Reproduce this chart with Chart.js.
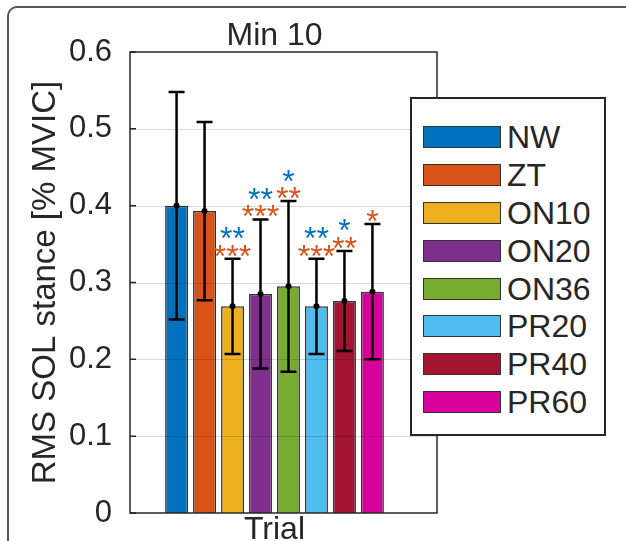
<!DOCTYPE html>
<html>
<head>
<meta charset="utf-8">
<script src="https://cdn.jsdelivr.net/npm/chart.js@4.4.0/dist/chart.umd.min.js"></script>
<style>
  html, body { margin: 0; padding: 0; width: 626px; height: 541px; overflow: hidden; background: #fff; }
  #frame { position: absolute; left: 7px; top: 6px; width: 700px; height: 700px; border: 2px solid #555; border-radius: 10px; }
  #wrap { position: absolute; left: 0; top: 0; width: 626px; height: 570px; }
  .legend { box-sizing: border-box; position: absolute; left: 410px; top: 97px; width: 196px; height: 339px;
    padding: 19px 0 0 0; margin: 0; list-style: none;
    border: 2px solid #262626; background: #fff;
    font-family: "Liberation Sans", Arial, sans-serif; font-size: 32px; color: #262626; }
  .legend li { display: flex; align-items: center; height: 37.9px; }
  .legend .sw { box-sizing: border-box; width: 78px; height: 22px; margin-left: 11px; margin-right: 6px; border: 1.5px solid #333; }
  .legend .tx { line-height: 1; }
</style>
</head>
<body>
<div id="frame"></div>
<div id="wrap"><canvas id="c" width="626" height="570"></canvas></div>
<ul class="legend" id="legend"></ul>
<script>
const groupLabel = "Trial";
const categories = ["NW", "ZT", "ON10", "ON20", "ON36", "PR20", "PR40", "PR60"];
const means = [0.400, 0.393, 0.269, 0.285, 0.295, 0.269, 0.276, 0.288];
const sd = [0.148, 0.116, 0.062, 0.097, 0.111, 0.062, 0.065, 0.088];
// number of stars: difference vs NW (blue) and vs ZT (orange)
const sigNW = [0, 0, 2, 2, 1, 2, 1, 0];
const sigZT = [0, 0, 3, 3, 2, 3, 2, 1];
const yTicks = [0, 0.1, 0.2, 0.3, 0.4, 0.5, 0.6];
const colors = ["#0072BD", "#D95319", "#EDB120", "#7E2F8E", "#77AC30", "#4DBEEE", "#A2142F", "#D6009A"];

const font = '"Liberation Sans", Arial, sans-serif';
const textColor = "#262626";
const frameRight = 437;

//axes box, grid, error bars and stars
const matlabAxes = {
  id: "matlabAxes",
  afterDatasetsDraw(chart) {
    const { ctx, chartArea: a, scales: { y } } = chart;
    ctx.save();
    // grid lines on top of bars, like MATLAB
    ctx.strokeStyle = "rgba(0,0,0,0.15)";
    ctx.lineWidth = 1;
    yTicks.slice(1, -1).forEach((v) => {
      const py = Math.round(y.getPixelForValue(v)) + 0.5;
      ctx.beginPath();
      ctx.moveTo(a.left, py);
      ctx.lineTo(frameRight, py);
      ctx.stroke();
    });
    // error bars
    ctx.strokeStyle = "#000";
    ctx.fillStyle = "#000";
    ctx.lineWidth = 2.5;
    categories.forEach((name, i) => {
      const bar = chart.getDatasetMeta(i).data[0];
      const top = y.getPixelForValue(means[i] + sd[i]);
      const bot = y.getPixelForValue(means[i] - sd[i]);
      const mid = y.getPixelForValue(means[i]);
      ctx.beginPath();
      ctx.moveTo(bar.x, top);
      ctx.lineTo(bar.x, bot);
      ctx.moveTo(bar.x - 8, top);
      ctx.lineTo(bar.x + 8, top);
      ctx.moveTo(bar.x - 8, bot);
      ctx.lineTo(bar.x + 8, bot);
      ctx.stroke();
      ctx.beginPath();
      ctx.arc(bar.x, mid, 3, 0, Math.PI * 2);
      ctx.fill();
      // stars
      ctx.font = "32px " + font;
      ctx.textAlign = "center";
      ctx.textBaseline = "alphabetic";
      const orangeC = top - 10;
      const blueC = orangeC - 17.5;
      if (sigZT[i]) {
        ctx.fillStyle = colors[1];
        ctx.fillText("*".repeat(sigZT[i]), bar.x, orangeC + 18);
      }
      if (sigNW[i]) {
        ctx.fillStyle = colors[0];
        ctx.fillText("*".repeat(sigNW[i]), bar.x, (sigZT[i] ? blueC : orangeC) + 18);
      }
      ctx.fillStyle = "#000";
    });
    // axes box and inward ticks
    ctx.strokeStyle = textColor;
    ctx.lineWidth = 1.5;
    ctx.strokeRect(a.left, a.top, frameRight - a.left, a.bottom - a.top);
    ctx.beginPath();
    yTicks.forEach((v) => {
      const py = y.getPixelForValue(v);
      ctx.moveTo(a.left, py);
      ctx.lineTo(a.left + 6, py);
    });
    ctx.stroke();
    ctx.restore();
  },
};

const ctx = document.getElementById("c").getContext("2d");
const chart = new Chart(ctx, {
  type: "bar",
  data: {
    labels: [groupLabel],
    datasets: categories.map((name, i) => ({
      label: name,
      data: [means[i]],
      backgroundColor: colors[i],
      borderColor: "#333",
      borderWidth: 1.5,
      categoryPercentage: 0.7745,
      barPercentage: 0.82,
    })),
  },
  options: {
    responsive: false,
    animation: false,
    layout: { padding: { left: 0, top: 0, right: 207, bottom: 0 } },
    plugins: {
      legend: { display: false },
      tooltip: { enabled: false },
      title: {
        display: true,
        text: "Min 10",
        fullSize: false,
        color: textColor,
        font: { family: font, size: 32, weight: "normal", lineHeight: 1 },
        padding: { top: 20, bottom: 0 },
      },
    },
    scales: {
      x: {
        grid: { display: false },
        border: { display: false },
        ticks: { color: textColor, font: { family: font, size: 32, lineHeight: 1 }, padding: -7 },
        afterFit(s) { s.height = 570 - 513; },
      },
      y: {
        min: 0,
        max: 0.6,
        grid: { display: false },
        border: { display: false },
        afterBuildTicks(s) { s.ticks = yTicks.map((v) => ({ value: v })); },
        ticks: {
          color: textColor,
          font: { family: font, size: 31 },
          padding: 10,
          callback: (v) => String(Number(v.toFixed(1))),
        },
        title: {
          display: true,
          text: "RMS SOL stance [% MVIC]",
          color: textColor,
          font: { family: font, size: 33, lineHeight: 1 },
          padding: { top: 29.5, bottom: 0 },
        },
        afterFit(s) { s.width = 130; },
      },
    },
  },
  plugins: [matlabAxes],
});

//legend
const legend = document.getElementById("legend");
categories.forEach((name, i) => {
  const item = document.createElement("li");
  item.innerHTML = `<span class="sw" style="background:${colors[i]}"></span><span class="tx">${name}</span>`;
  legend.appendChild(item);
});
</script>
</body>
</html>
